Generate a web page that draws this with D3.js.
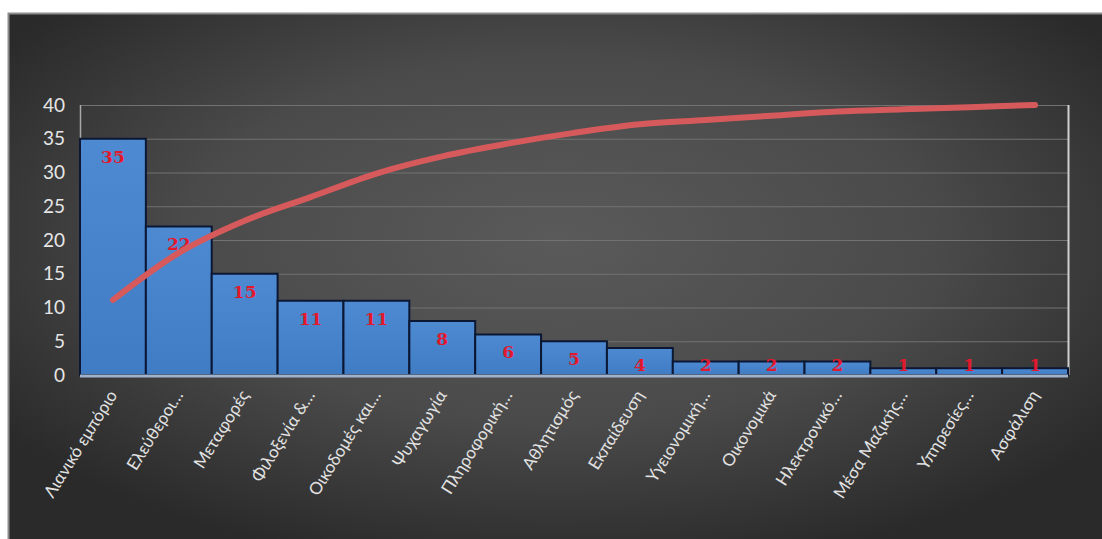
<!DOCTYPE html>
<html>
<head>
<meta charset="utf-8">
<script src="https://cdn.jsdelivr.net/npm/d3@7"></script>
<style>
  html, body { margin: 0; padding: 0; background: #ffffff; }
  svg { display: block; }
</style>
</head>
<body>
<svg id="chart" width="1102" height="539"></svg>
<script>
// Sectors and number of businesses in each, sorted descending (Pareto order)
const categories = [
  "Λιανικό εμπόριο", "Ελεύθεροι…", "Μεταφορές", "Φιλοξενία &…", "Οικοδομές και…",
  "Ψυχαγωγία", "Πληροφορική…", "Αθλητισμός", "Εκπαίδευση", "Υγειονομική…",
  "Οικονομικά", "Ηλεκτρονικό…", "Μέσα Μαζικής…", "Υπηρεσίες…", "Ασφάλιση"
];
const counts = [35, 22, 15, 11, 11, 8, 6, 5, 4, 2, 2, 2, 1, 1, 1];
const yTicks = [0, 5, 10, 15, 20, 25, 30, 35, 40];

// Cumulative share, plotted against a hidden 0–1 secondary axis
const total = d3.sum(counts);
const cumulative = d3.cumsum(counts).map(v => v / total);

const svg = d3.select("#chart");
const W = 1102, H = 539;

// Chart panel background
const defs = svg.append("defs");
const bg = defs.append("radialGradient").attr("id", "panelBg")
  .attr("cx", "0.5").attr("cy", "0.42").attr("r", "0.62");
bg.append("stop").attr("offset", "0").attr("stop-color", "#5a5a5a");
bg.append("stop").attr("offset", "0.55").attr("stop-color", "#4a4a4a");
bg.append("stop").attr("offset", "1").attr("stop-color", "#2a2a2a");

const barGrad = defs.append("linearGradient").attr("id", "barFill")
  .attr("x1", 0).attr("y1", 0).attr("x2", 0).attr("y2", 1);
barGrad.append("stop").attr("offset", "0").attr("stop-color", "#4d8ad2");
barGrad.append("stop").attr("offset", "1").attr("stop-color", "#3f7cc4");

svg.append("rect")
  .attr("x", 8.5).attr("y", 13.5)
  .attr("width", W).attr("height", H)
  .attr("fill", "url(#panelBg)")
  .attr("stroke", "#8c8c8c").attr("stroke-width", 2);

const plot = { left: 80, right: 1068, top: 105, bottom: 375 };

const x = d3.scaleBand()
  .domain(categories)
  .range([plot.left, plot.right])
  .paddingInner(0).paddingOuter(0);

const y = d3.scaleLinear().domain([0, 40]).range([plot.bottom, plot.top]);
const y2 = d3.scaleLinear().domain([0, 1]).range([plot.bottom, plot.top]);

// Horizontal gridlines
svg.append("g")
  .selectAll("line")
  .data(yTicks.filter(t => t > 0))
  .join("line")
  .attr("x1", plot.left).attr("x2", plot.right)
  .attr("y1", d => y(d) + 0.5).attr("y2", d => y(d) + 0.5)
  .attr("stroke", "#727272").attr("stroke-width", 1);

// Y axis labels
const yAxis = svg.append("g")
  .attr("transform", `translate(${plot.left},0)`)
  .call(d3.axisLeft(y).tickValues(yTicks).tickSize(0).tickPadding(15));
yAxis.select(".domain").remove();
yAxis.selectAll("text")
  .attr("fill", "#e6e6e6")
  .attr("font-family", "Lato, 'Open Sans', sans-serif")
  .attr("font-size", 19);

// Left axis line
svg.append("line")
  .attr("x1", plot.left + 0.5).attr("x2", plot.left + 0.5)
  .attr("y1", plot.top).attr("y2", plot.bottom)
  .attr("stroke", "#a9a9a9").attr("stroke-width", 1.5);

// Right border line of the plot area
svg.append("line")
  .attr("x1", plot.right + 0.5).attr("x2", plot.right + 0.5)
  .attr("y1", plot.top).attr("y2", plot.bottom)
  .attr("stroke", "#d0d0d0").attr("stroke-width", 2);

// Bars
svg.append("g")
  .selectAll("rect")
  .data(counts)
  .join("rect")
  .attr("x", (d, i) => x(categories[i]))
  .attr("y", d => y(d))
  .attr("width", x.bandwidth())
  .attr("height", d => y(0) - y(d))
  .attr("fill", "url(#barFill)")
  .attr("stroke", "#0b1733")
  .attr("stroke-width", 2);

// Category axis line
svg.append("line")
  .attr("x1", plot.left).attr("x2", plot.right)
  .attr("y1", plot.bottom + 1).attr("y2", plot.bottom + 1)
  .attr("stroke", "#9fb3cc").attr("stroke-width", 3);

// Value labels inside the bar ends
svg.append("g")
  .selectAll("text")
  .data(counts)
  .join("text")
  .attr("x", (d, i) => x(categories[i]) + x.bandwidth() / 2)
  .attr("y", d => Math.min(y(d) + 18, plot.bottom - 10))
  .attr("dy", "0.35em")
  .attr("text-anchor", "middle")
  .attr("fill", "#e3182d")
  .attr("font-family", "'DejaVu Serif', serif")
  .attr("font-weight", "bold")
  .attr("font-size", 17)
  .text(d => d);

// Cumulative curve
const line = d3.line()
  .x((d, i) => x(categories[i]) + x.bandwidth() / 2)
  .y(d => y2(d))
  .curve(d3.curveCatmullRom.alpha(0.5));

svg.append("path")
  .datum(cumulative)
  .attr("d", line)
  .attr("fill", "none")
  .attr("stroke", "#d65a5c")
  .attr("stroke-width", 6)
  .attr("stroke-linecap", "round");

// Rotated category labels
svg.append("g")
  .selectAll("text")
  .data(categories)
  .join("text")
  .attr("transform", d => `translate(${x(d) + x.bandwidth() / 2 + 5},${plot.bottom + 20}) rotate(-58)`)
  .attr("text-anchor", "end")
  .attr("fill", "#e2e2e2")
  .attr("font-family", "Lato, 'Open Sans', sans-serif")
  .attr("font-size", 17)
  .text(d => d);
</script>
</body>
</html>
